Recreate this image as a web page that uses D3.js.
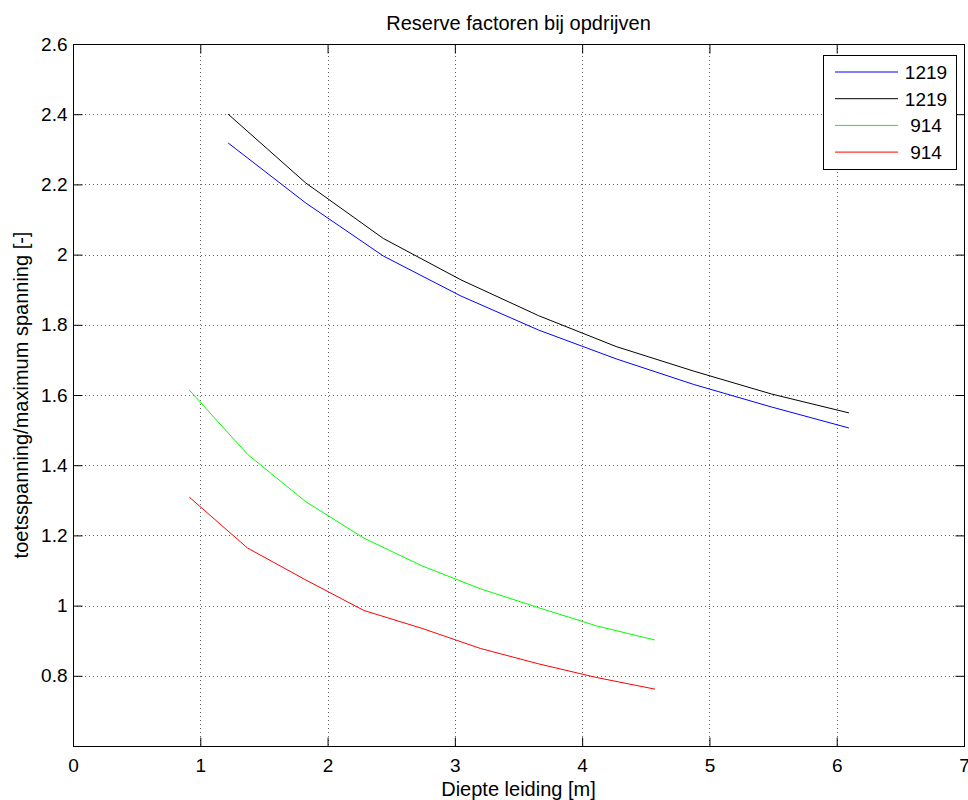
<!DOCTYPE html>
<html>
<head>
<meta charset="utf-8">
<script src="https://cdn.jsdelivr.net/npm/d3@7"></script>
<style>
  body { margin: 0; background: #fff; }
  text { font-family: "Liberation Sans", Arial, sans-serif; fill: #000; }
</style>
</head>
<body>
<svg id="chart" width="968" height="800"></svg>
<script>
// ---- data ----
const depth1219 = [1.219, 1.829, 2.438, 3.048, 3.658, 4.267, 4.877, 5.486, 6.096];
const blue1219  = [2.318, 2.147, 1.996, 1.882, 1.785, 1.703, 1.630, 1.566, 1.506];
const black1219 = [2.400, 2.204, 2.046, 1.928, 1.826, 1.738, 1.668, 1.603, 1.549];
const depth914  = [0.914, 1.371, 1.829, 2.286, 2.743, 3.200, 3.658, 4.115, 4.572];
const green914  = [1.614, 1.431, 1.296, 1.192, 1.113, 1.048, 0.994, 0.942, 0.902];
const red914    = [1.309, 1.164, 1.073, 0.986, 0.935, 0.878, 0.834, 0.795, 0.762];
const seriesNames  = ["1219", "1219", "914", "914"];
const seriesColors = ["#0000ff", "#000000", "#00ff00", "#ff0000"];
const xTicks = [0, 1, 2, 3, 4, 5, 6, 7];
const yTicks = [0.8, 1, 1.2, 1.4, 1.6, 1.8, 2, 2.2, 2.4, 2.6];
const titleText = "Reserve factoren bij opdrijven";
const xLabel = "Diepte leiding [m]";
const yLabel = "toetsspanning/maximum spanning [-]";

const series = [
  { x: depth1219, y: blue1219 },
  { x: depth1219, y: black1219 },
  { x: depth914,  y: green914 },
  { x: depth914,  y: red914 }
];

// ---- layout ----
const L = 73, R = 964, T = 44, B = 746;
const svg = d3.select("#chart");
const x = d3.scaleLinear().domain([0, 7]).range([L, R]);
const y = d3.scaleLinear().domain([0.6, 2.6]).range([B, T]);
const tickLen = 9;

// grid
const grid = svg.append("g");
grid.selectAll("line.gx").data(xTicks.filter(d => d > 0 && d < 7)).enter().append("line")
  .attr("x1", d => Math.round(x(d)) + 0.5).attr("x2", d => Math.round(x(d)) + 0.5)
  .attr("y1", T).attr("y2", B)
  .attr("stroke", "#000").attr("stroke-width", 1).attr("stroke-dasharray", "1,3").attr("opacity", 0.6);
grid.selectAll("line.gy").data(yTicks.filter(d => d < 2.6)).enter().append("line")
  .attr("y1", d => Math.round(y(d)) + 0.5).attr("y2", d => Math.round(y(d)) + 0.5)
  .attr("x1", L).attr("x2", R)
  .attr("stroke", "#000").attr("stroke-width", 1).attr("stroke-dasharray", "1,3").attr("opacity", 0.6);

// axes (bottom & left with labels, top & right mirrored ticks)
const fs = 19;
const xAxisB = d3.axisBottom(x).tickValues(xTicks).tickFormat(d3.format("d")).tickSizeInner(-tickLen).tickSizeOuter(0).tickPadding(12);
const gxb = svg.append("g").attr("transform", `translate(0,${B + 0.5})`).call(xAxisB);
const xAxisT = d3.axisTop(x).tickValues(xTicks).tickFormat("").tickSizeInner(-tickLen).tickSizeOuter(0);
const gxt = svg.append("g").attr("transform", `translate(0,${T + 0.5})`).call(xAxisT);
const yAxisL = d3.axisLeft(y).tickValues(yTicks).tickFormat(d => String(d)).tickSizeInner(-tickLen).tickSizeOuter(0).tickPadding(6);
const gyl = svg.append("g").attr("transform", `translate(${L + 0.5},0)`).call(yAxisL);
const yAxisR = d3.axisRight(y).tickValues(yTicks).tickFormat("").tickSizeInner(-tickLen).tickSizeOuter(0);
const gyr = svg.append("g").attr("transform", `translate(${R + 0.5},0)`).call(yAxisR);
[gxb, gxt, gyl, gyr].forEach(g => {
  g.selectAll(".domain").remove();
  g.selectAll(".tick line").attr("stroke", "#000");
  g.selectAll("text").attr("font-size", fs).attr("font-family", "Liberation Sans, Arial, sans-serif").attr("fill", "#000");
});
gxb.selectAll(".tick line").filter(d => d === 0 || d === 7).remove();
gxt.selectAll(".tick line").filter(d => d === 0 || d === 7).remove();

// box
svg.append("rect").attr("x", L + 0.5).attr("y", T + 0.5).attr("width", R - L).attr("height", B - T)
  .attr("fill", "none").attr("stroke", "#000").attr("stroke-width", 1);

// lines
const line = d3.line().x(d => x(d[0])).y(d => y(d[1]));
series.forEach((s, i) => {
  svg.append("path")
    .datum(s.x.map((xv, j) => [xv, s.y[j]]))
    .attr("d", line).attr("fill", "none")
    .attr("stroke", seriesColors[i]).attr("stroke-width", 1);
});

// legend
const lg = svg.append("g");
lg.append("rect").attr("x", 823.5).attr("y", 55.5).attr("width", 133).attr("height", 114)
  .attr("fill", "#fff").attr("stroke", "#000").attr("stroke-width", 1);
seriesNames.forEach((n, i) => {
  const yy = 72 + i * 26.7;
  lg.append("line").attr("x1", 835).attr("x2", 898).attr("y1", yy).attr("y2", yy)
    .attr("stroke", seriesColors[i]).attr("stroke-width", 1);
  lg.append("text").attr("x", 926).attr("y", yy + 7).attr("text-anchor", "middle")
    .attr("font-size", fs).text(n);
});

// title & labels
svg.append("text").attr("x", (L + R) / 2).attr("y", 30).attr("text-anchor", "middle")
  .attr("font-size", 20).text(titleText);
svg.append("text").attr("x", (L + R) / 2).attr("y", 796).attr("text-anchor", "middle")
  .attr("font-size", 20).text(xLabel);
svg.append("text").attr("transform", `translate(28,${(T + B) / 2}) rotate(-90)`).attr("text-anchor", "middle")
  .attr("font-size", 20).text(yLabel);
</script>
</body>
</html>
